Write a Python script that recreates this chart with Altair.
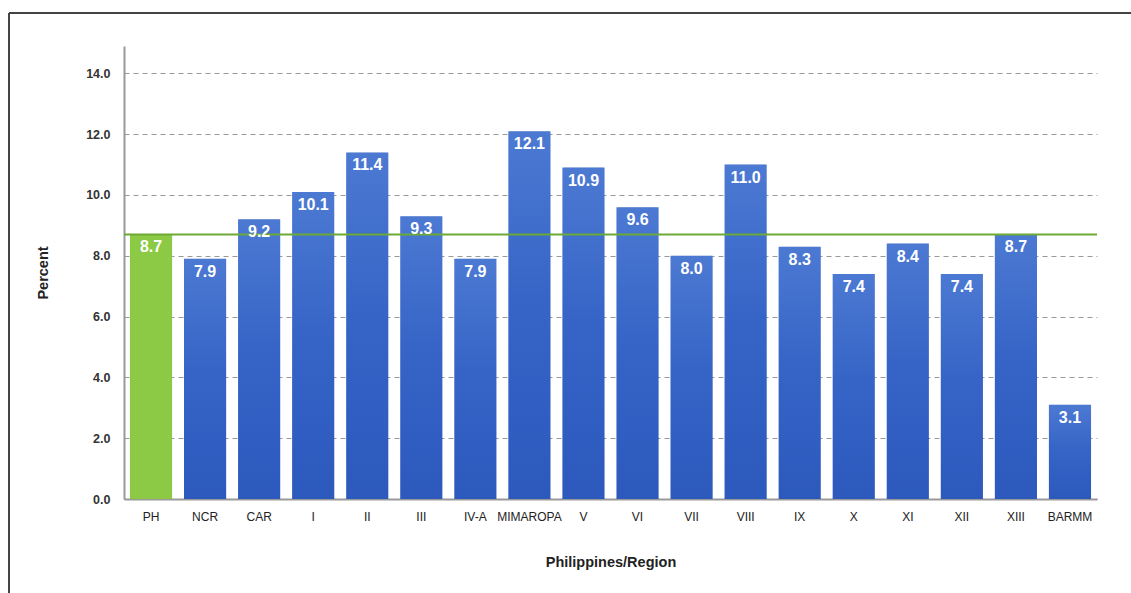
import altair as alt
import pandas as pd

regions = ["PH", "NCR", "CAR", "I", "II", "III", "IV-A", "MIMAROPA", "V", "VI",
           "VII", "VIII", "IX", "X", "XI", "XII", "XIII", "BARMM"]
values = [8.7, 7.9, 9.2, 10.1, 11.4, 9.3, 7.9, 12.1, 10.9, 9.6,
          8.0, 11.0, 8.3, 7.4, 8.4, 7.4, 8.7, 3.1]
national = 8.7

df = pd.DataFrame({"region": regions, "value": values})
df["is_ph"] = df["region"] == "PH"

W, H = 973, 453

x_enc = alt.X("region:N", sort=regions, title="Philippines/Region",
              scale=alt.Scale(paddingInner=0.22, paddingOuter=0.11),
              axis=alt.Axis(labelAngle=0, labelFontSize=12, labelColor="#222",
                            labelPadding=12, ticks=False, domainColor="#999",
                            domainWidth=2, titleFontSize=14.5, titleFontWeight="bold",
                            titleColor="#222", titlePadding=33))
y_enc = alt.Y("value:Q", title="Percent",
              scale=alt.Scale(domain=[0, 14.9], nice=False),
              axis=alt.Axis(values=[0, 2, 4, 6, 8, 10, 12, 14], format=".1f",
                            labelFontSize=12.5, labelFontWeight="bold", labelColor="#333",
                            labelPadding=14, ticks=False, domainColor="#999", domainWidth=2,
                            grid=True, gridDash=[5, 4], gridColor="#999", gridWidth=1,
                            titleFontSize=14.5, titleFontWeight="bold", titleColor="#222",
                            titlePadding=35))

base = alt.Chart(df).encode(x=x_enc, y=y_enc)

# soft halo behind each bar
shadow = base.mark_bar(color="#b0b0b0", opacity=0.45, width=alt.RelativeBandSize(0.9))

blue_grad = alt.Gradient(
    gradient="linear", x1=0, y1=0, x2=0, y2=1,
    stops=[alt.GradientStop(color="#4c79d2", offset=0),
           alt.GradientStop(color="#3563c6", offset=0.5),
           alt.GradientStop(color="#2d59bd", offset=1)])

blue_bars = base.transform_filter("!datum.is_ph").mark_bar(color=blue_grad)
green_bar = base.transform_filter("datum.is_ph").mark_bar(color="#8cc944")

avg_line = alt.Chart(pd.DataFrame({"v": [national]})).mark_rule(
    color="#6caa35", strokeWidth=2).encode(y="v:Q")

labels = base.mark_text(color="white", fontWeight="bold", fontSize=16,
                        baseline="top", dy=5,
                        font="Liberation Sans").encode(text=alt.Text("value:Q", format=".1f"))

# outer frame around the figure
frame_left = alt.Chart(pd.DataFrame({"k": [0]})).mark_rule(color="#444", strokeWidth=2).encode(
    x=alt.value(-115), y=alt.value(-33), y2=alt.value(H + 100))
frame_top = alt.Chart(pd.DataFrame({"k": [0]})).mark_rule(color="#444", strokeWidth=2).encode(
    x=alt.value(-115), x2=alt.value(W + 40), y=alt.value(-33))

chart = alt.layer(shadow, blue_bars, green_bar, avg_line, labels, frame_left, frame_top).properties(
    width=W, height=H,
    background="white",
    autosize=alt.AutoSizeParams(type="none"),
    padding={"left": 124, "top": 46, "right": 34, "bottom": 94},
).configure_view(strokeWidth=0, stroke="transparent").configure_axis(
    titleFont="Liberation Sans", labelFont="Liberation Sans"
)

chart.save("out.html", embed_options={"renderer": "svg", "actions": False})
